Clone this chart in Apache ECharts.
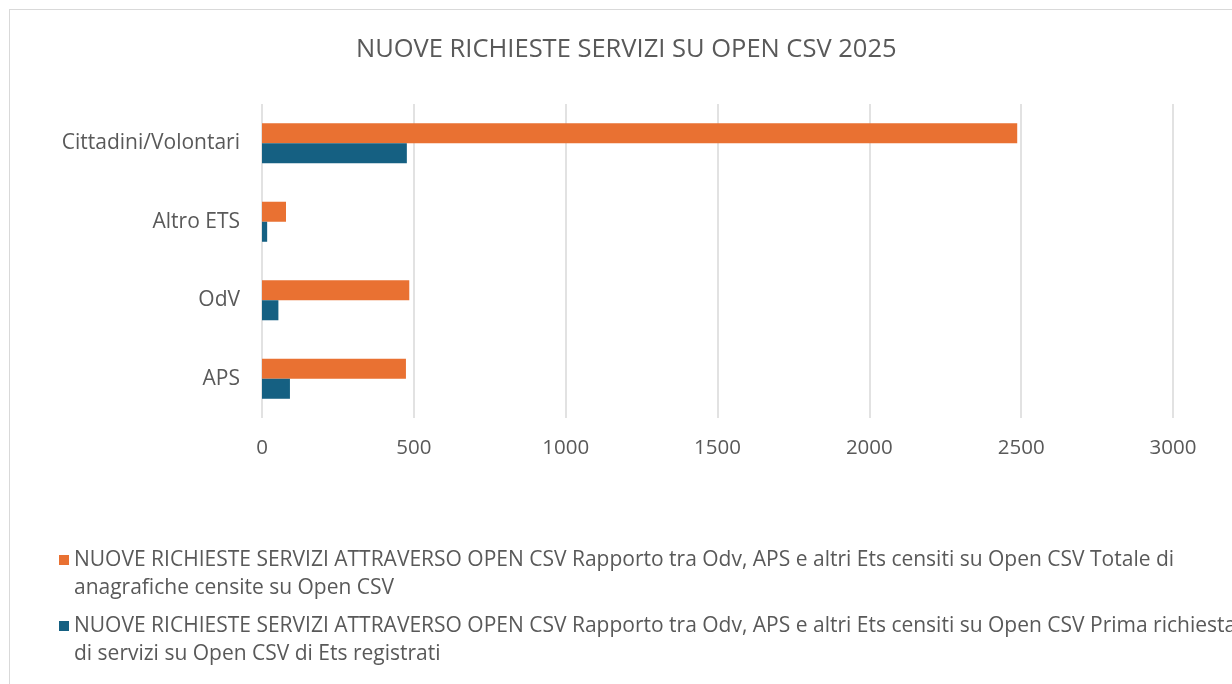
<!DOCTYPE html>
<html>
<head>
<meta charset="utf-8">
<script src="https://cdn.jsdelivr.net/npm/echarts@6/dist/echarts.min.js"></script>
<style>
  html, body { margin: 0; padding: 0; background: #fff; overflow: hidden; }
  .frame {
    position: absolute; left: 9px; top: 9px; width: 1300px; height: 800px;
    border-left: 1px solid #d9d9d9; border-top: 1px solid #d9d9d9;
  }
  #chart { position: absolute; left: 0; top: 0; width: 1232px; height: 684px; }
</style>
</head>
<body>
<div class="frame"></div>
<div id="chart"></div>
<script>
// categories, bottom to top as on the y axis
const categories = ['APS', 'OdV', 'Altro ETS', 'Cittadini/Volontari']

const totaleName = 'NUOVE RICHIESTE SERVIZI ATTRAVERSO OPEN CSV Rapporto tra Odv, APS e altri Ets censiti su Open CSV Totale di anagrafiche censite su Open CSV'
const primaName = 'NUOVE RICHIESTE SERVIZI ATTRAVERSO OPEN CSV Rapporto tra Odv, APS e altri Ets censiti su Open CSV Prima richiesta di servizi su Open CSV di Ets registrati'

const totaleValues = [474, 485, 79, 2487]
const primaValues = [92, 54, 17, 477]

const xTicks = [0, 500, 1000, 1500, 2000, 2500, 3000]

const textColor = '#595959'
const fontFamily = 'Open Sans, sans-serif'

// square at the top of a taller, empty box so the icon sits on the first text line
const legendIcon = 'path://M0,0L10,0L10,10L0,10Z M0,38L0.01,38'

const chart = echarts.init(document.getElementById('chart'))

const option = {
  backgroundColor: 'transparent',
  animation: false,
  textStyle: { fontFamily: fontFamily },
  title: {
    text: 'NUOVE RICHIESTE SERVIZI SU OPEN CSV 2025',
    left: 351,
    top: 32,
    textStyle: {
      color: textColor,
      fontSize: 25.5,
      fontWeight: 'normal',
      fontFamily: fontFamily,
    },
  },
  legend: {
    orient: 'vertical',
    left: 54,
    top: 541,
    itemGap: 10,
    itemWidth: 10,
    itemHeight: 38,
    icon: legendIcon,
    data: [totaleName, primaName],
    formatter: (name) => name
      .replace(' Totale di ', ' Totale di\n')
      .replace(' Prima richiesta ', ' Prima richiesta\n'),
    textStyle: {
      color: textColor,
      fontSize: 21,
      lineHeight: 28,
      fontFamily: fontFamily,
    },
  },
  grid: {
    left: 262,
    right: 59,
    top: 104,
    bottom: 266,
  },
  xAxis: {
    type: 'value',
    min: xTicks[0],
    max: xTicks[xTicks.length - 1],
    interval: 500,
    axisLine: { show: false },
    axisTick: { show: false },
    axisLabel: {
      color: textColor,
      fontSize: 20.5,
      margin: 20,
      formatter: (v) => String(v),
    },
    splitLine: {
      lineStyle: { color: '#d9d9d9', width: 1.5 },
    },
  },
  yAxis: {
    type: 'category',
    data: categories,
    axisLine: { show: false },
    axisTick: { show: false },
    axisLabel: {
      color: textColor,
      fontSize: 21,
      margin: 22,
    },
  },
  series: [
    {
      name: totaleName,
      type: 'bar',
      data: totaleValues,
      barGap: '0%',
      barCategoryGap: '49%',
      itemStyle: { color: '#E97132' },
    },
    {
      name: primaName,
      type: 'bar',
      data: primaValues,
      itemStyle: { color: '#156082' },
    },
  ],
}

chart.setOption(option)
</script>
</body>
</html>
